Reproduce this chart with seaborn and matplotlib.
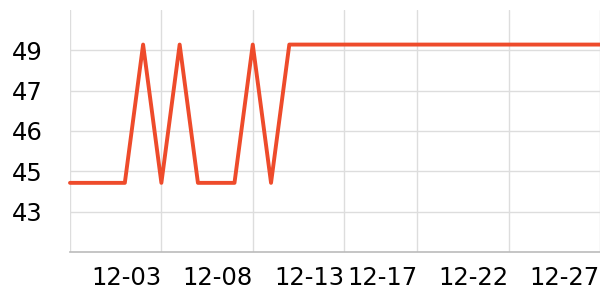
import matplotlib
matplotlib.use("Agg")
import matplotlib.pyplot as plt
import seaborn as sns
import pandas as pd

dates = ["2023-11-28", "2023-11-29", "2023-11-30", "2023-12-01", "2023-12-02",
         "2023-12-03", "2023-12-04", "2023-12-05", "2023-12-06", "2023-12-07",
         "2023-12-08", "2023-12-09", "2023-12-10", "2023-12-11", "2023-12-12",
         "2023-12-13", "2023-12-14", "2023-12-15", "2023-12-16", "2023-12-17",
         "2023-12-18", "2023-12-19", "2023-12-20", "2023-12-21", "2023-12-22",
         "2023-12-23", "2023-12-24", "2023-12-25", "2023-12-26", "2023-12-27"]
values = [44.2, 44.2, 44.2, 44.2, 49.0,
          44.2, 49.0, 44.2, 44.2, 44.2,
          49.0, 44.2, 49.0, 49.0, 49.0,
          49.0, 49.0, 49.0, 49.0, 49.0,
          49.0, 49.0, 49.0, 49.0, 49.0,
          49.0, 49.0, 49.0, 49.0, 49.0]
xtick_dates = ["2023-11-28", "2023-12-03", "2023-12-08", "2023-12-13",
               "2023-12-17", "2023-12-22", "2023-12-27"]
xtick_labels = ["", "12-03", "12-08", "12-13", "12-17", "12-22", "12-27"]
ytick_values = [43.2, 44.6, 46.0, 47.4, 48.8]
ytick_labels = ["43", "45", "46", "47", "49"]

df = pd.DataFrame({"date": pd.to_datetime(dates), "value": values})

sns.set_theme(style="white")
plt.rcParams["font.family"] = ["DejaVu Sans"]

fig = plt.figure(figsize=(6, 3), dpi=100)
ax = fig.add_axes([70/600, 48/300, 530/600, 242/300])

sns.lineplot(data=df, x="date", y="value", ax=ax, color="#ee4b2b",
             linewidth=2.8, zorder=3, clip_on=False)

ax.set_xlim(pd.Timestamp(dates[0]), pd.Timestamp(dates[-1]))
ax.set_ylim(41.8, 50.2)

ax.set_xticks(pd.to_datetime(xtick_dates))
ax.set_xticklabels(xtick_labels, ha="right", fontsize=17.5)
ax.set_yticks(ytick_values)
ax.set_yticklabels(ytick_labels, fontsize=17.5)

ax.grid(True, color="#dddddd", linewidth=1)
ax.set_axisbelow(True)
ax.set_xlabel("")
ax.set_ylabel("")

for s in ["top", "right", "left"]:
    ax.spines[s].set_visible(False)
ax.spines["bottom"].set_color("#bbbbbb")
ax.spines["bottom"].set_linewidth(1.2)

ax.tick_params(axis="x", length=4, width=1, color="#bbbbbb", pad=6, labelcolor="black")
ax.tick_params(axis="y", length=0, pad=19.5, labelcolor="black")

fig.savefig("out.png", dpi=100, facecolor="white")
